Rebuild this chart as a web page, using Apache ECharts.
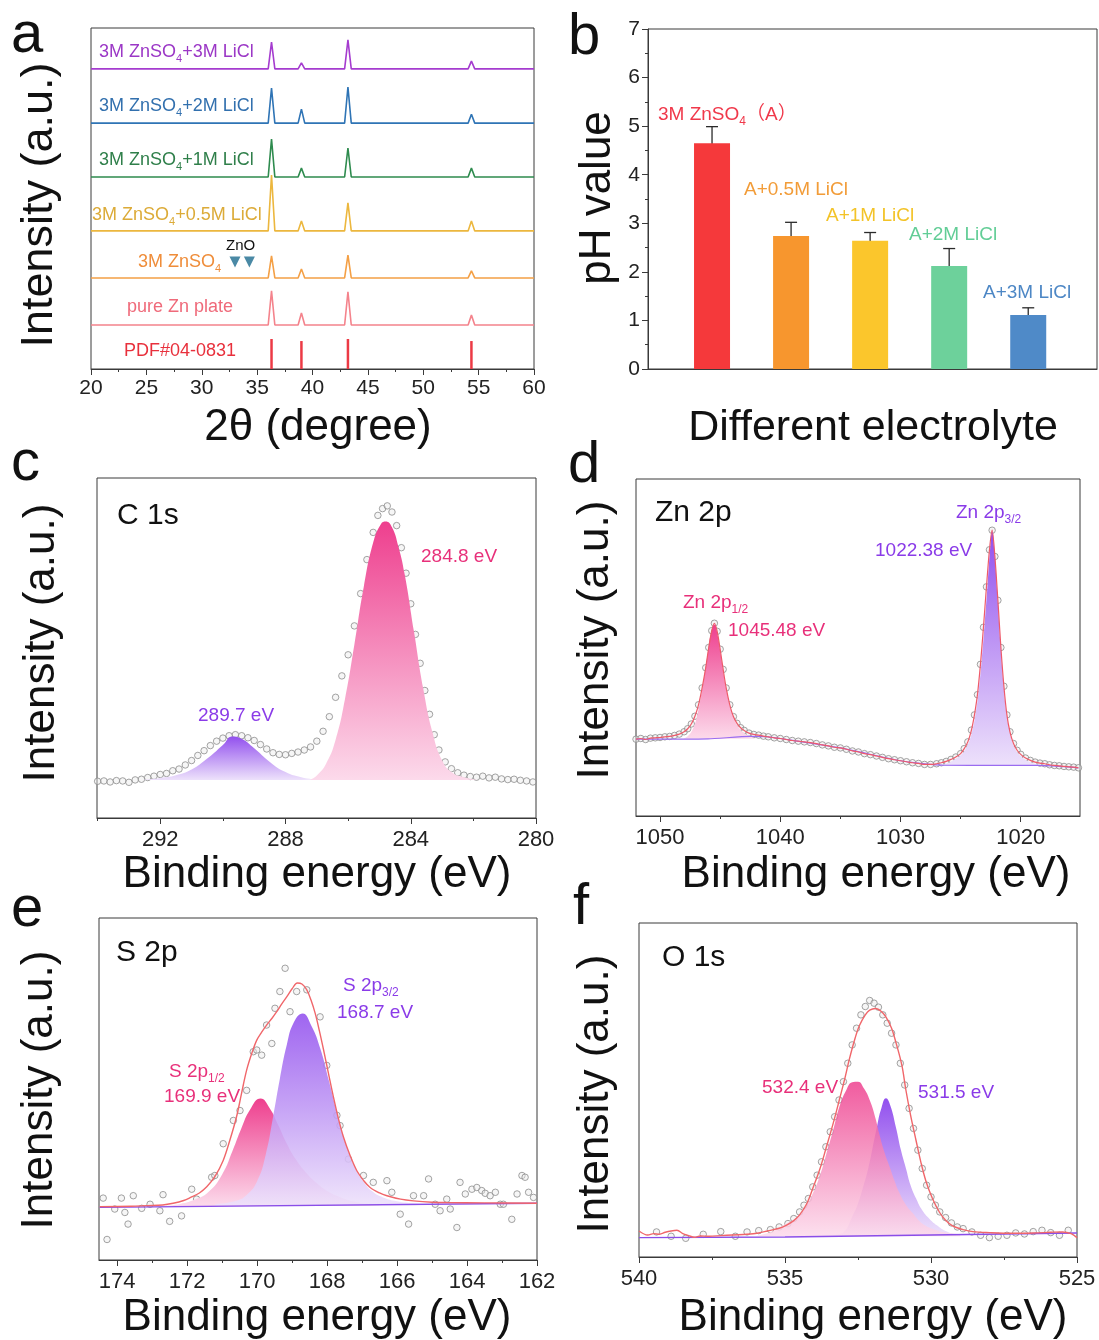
<!DOCTYPE html>
<html>
<head>
<meta charset="utf-8">
<script src="https://cdn.jsdelivr.net/npm/echarts@6/dist/echarts.min.js"></script>
<style>
html, body { margin: 0; padding: 0; background: #fff; }
#chart { width: 1099px; height: 1340px; }
</style>
</head>
<body>
<div id="chart"></div>
<script>
// 字体 / 颜色
const FONT = '"Liberation Sans", Arial, "Noto Sans CJK SC", sans-serif'
const AXIS = '#3a3a3a'
const PINK_TXT = '#e8307a'
const PURPLE_TXT = '#8a3be8'

// ---- a: XRD ----
const xrdTicks = [20, 25, 30, 35, 40, 45, 50, 55, 60]
const xrdPeaks = [36.3, 39.0, 43.2, 54.35]
const xrdOffsets = [88.0, 72.1, 56.3, 40.5, 26.7, 12.9]
const xrdHeights = [
  [7.9, 1.8, 8.5, 2.3],
  [10.3, 4.1, 10.6, 2.6],
  [11.1, 2.6, 8.5, 2.6],
  [16.4, 2.9, 8.2, 2.9],
  [6.5, 2.6, 6.7, 2.1],
  [10.0, 3.5, 9.7, 2.9]
]
const pdfHeights = [8.8, 8.2, 8.8, 8.2]
const znoMarks = [33.0, 34.3]
const znoLevel = 31.4

// ---- b: pH ----
const phCategories = ['3M ZnSO4（A）', 'A+0.5M LiCl', 'A+1M LiCl', 'A+2M LiCl', 'A+3M LiCl']
const phValues = [4.65, 2.74, 2.64, 2.12, 1.11]
const phErrLow = [4.30, 2.48, 2.47, 1.76, 1.01]
const phErrHigh = [4.99, 3.02, 2.81, 2.48, 1.26]

// ---- c: C 1s ----
const c1sMajor = [280, 284, 288, 292]
const c1sMinor = [282, 286, 290, 294]
const c1sData = [
  [294.0, 10.8], [293.8, 10.9], [293.6, 10.6], [293.4, 11.0], [293.2, 10.9], [293.0, 10.5], [292.8, 11.2],
  [292.6, 11.4], [292.4, 11.9], [292.2, 12.3], [292.0, 12.8], [291.8, 13.1], [291.6, 13.9], [291.4, 14.4],
  [291.2, 15.6], [291.0, 16.9], [290.8, 18.4], [290.6, 19.8], [290.4, 21.3], [290.2, 22.6], [290.0, 23.5],
  [289.8, 24.2], [289.6, 24.5], [289.4, 24.2], [289.2, 23.6], [289.0, 22.8], [288.8, 21.6], [288.6, 20.3],
  [288.4, 19.2], [288.2, 18.7], [288.0, 18.6], [287.8, 19.0], [287.6, 19.4], [287.4, 20.0], [287.2, 20.9],
  [287.0, 22.6], [286.8, 25.5], [286.6, 29.8], [286.4, 35.5], [286.2, 41.8], [286.0, 48.0], [285.8, 56.5],
  [285.6, 66.0], [285.4, 76.0], [285.2, 84.0], [285.05, 89.0], [284.9, 91.0], [284.75, 91.8], [284.6, 90.0],
  [284.45, 86.0], [284.3, 79.5], [284.15, 72.0], [284.0, 63.0], [283.85, 54.0], [283.7, 45.5], [283.55, 37.5],
  [283.4, 30.5], [283.25, 24.5], [283.1, 20.0], [282.9, 16.5], [282.7, 14.5], [282.5, 13.3], [282.3, 12.6],
  [282.1, 12.2], [281.9, 12.0], [281.7, 12.3], [281.5, 11.8], [281.3, 12.0], [281.1, 11.5], [280.9, 11.3],
  [280.7, 11.4], [280.5, 11.1], [280.3, 10.9], [280.1, 10.6]
]
const c1sPeak284 = [
  [287.2, 11.3], [287.0, 12.5], [286.7, 16], [286.4, 23], [286.1, 35], [285.8, 51], [285.5, 68], [285.2, 81],
  [284.95, 86.5], [284.8, 87.2], [284.6, 85.5], [284.4, 80], [284.2, 72], [283.9, 55], [283.6, 38], [283.3, 25],
  [283.0, 17], [282.7, 13.5], [282.3, 12], [281.8, 11.3]
]
const c1sPeak289 = [
  [292.5, 11.3], [292.0, 11.8], [291.5, 12.6], [291.0, 14.3], [290.5, 17.5], [290.0, 21.5], [289.7, 24.0],
  [289.4, 23.3], [289.0, 20.5], [288.5, 16.5], [288.0, 13.5], [287.5, 12.0], [287.0, 11.3]
]
const c1sBase = 11.2

// ---- d: Zn 2p ----
const zn2pMajor = [1020, 1030, 1040, 1050]
const zn2pMinor = [1025, 1035, 1045]
const zn2pData = [
  [1052.0, 22.8], [1051.6, 23.0], [1051.2, 22.7], [1050.8, 23.1], [1050.4, 23.2], [1050.0, 23.3], [1049.6, 23.5],
  [1049.2, 23.6], [1048.8, 23.9], [1048.4, 24.3], [1048.0, 25.0], [1047.7, 25.9], [1047.4, 27.3], [1047.1, 29.6],
  [1046.8, 33.0], [1046.5, 38.0], [1046.2, 44.0], [1045.95, 50.0], [1045.7, 55.0], [1045.48, 57.2], [1045.25, 54.8],
  [1045.0, 49.5], [1044.75, 43.5], [1044.5, 38.0], [1044.2, 33.0], [1043.9, 29.5], [1043.6, 27.5], [1043.3, 26.2],
  [1043.0, 25.4], [1042.6, 24.6], [1042.2, 24.2], [1041.8, 24.0], [1041.4, 23.7], [1041.0, 23.5], [1040.5, 23.2],
  [1040.0, 23.0], [1039.5, 22.7], [1039.0, 22.4], [1038.5, 22.2], [1038.0, 22.0], [1037.5, 21.8], [1037.0, 21.5],
  [1036.5, 21.1], [1036.0, 20.8], [1035.5, 20.4], [1035.0, 20.2], [1034.5, 19.8], [1034.0, 19.3], [1033.5, 19.0],
  [1033.0, 18.5], [1032.5, 18.2], [1032.0, 17.8], [1031.5, 17.4], [1031.0, 17.0], [1030.5, 16.7], [1030.0, 16.4],
  [1029.5, 16.1], [1029.0, 15.8], [1028.5, 15.6], [1028.0, 15.3], [1027.5, 15.3], [1027.0, 15.5], [1026.6, 15.8],
  [1026.2, 16.2], [1025.8, 16.8], [1025.4, 17.5], [1025.0, 18.5], [1024.7, 20.0], [1024.4, 22.0], [1024.1, 25.5],
  [1023.85, 30.0], [1023.6, 36.0], [1023.35, 45.0], [1023.1, 56.0], [1022.85, 68.0], [1022.6, 79.0], [1022.38, 84.8],
  [1022.15, 77.0], [1021.9, 64.0], [1021.65, 50.0], [1021.4, 38.5], [1021.15, 30.0], [1020.9, 25.0], [1020.6, 21.5],
  [1020.3, 19.5], [1020.0, 18.3], [1019.6, 17.2], [1019.2, 16.5], [1018.8, 16.0], [1018.4, 15.7], [1018.0, 15.5],
  [1017.6, 15.2], [1017.2, 15.0], [1016.8, 14.9], [1016.4, 14.7], [1016.0, 14.6], [1015.6, 14.5], [1015.2, 14.3]
]
const zn2pPeak1045 = [
  [1048.0, 23.0], [1047.6, 24.0], [1047.2, 26.5], [1046.9, 30.0], [1046.6, 35.5], [1046.3, 42.0], [1046.0, 49.0],
  [1045.75, 54.5], [1045.48, 56.8], [1045.2, 53.5], [1044.95, 48.0], [1044.7, 42.0], [1044.4, 36.0], [1044.1, 31.5],
  [1043.8, 28.5], [1043.4, 26.0], [1043.0, 24.6], [1042.5, 23.6], [1042.0, 23.0]
]
const zn2pPeak1022 = [
  [1026.5, 15.2], [1026.0, 15.8], [1025.5, 16.8], [1025.0, 18.0], [1024.6, 19.8], [1024.3, 22.0], [1024.0, 25.8],
  [1023.75, 30.5], [1023.5, 37.0], [1023.25, 46.0], [1023.0, 57.0], [1022.75, 69.0], [1022.55, 79.0], [1022.38, 84.5],
  [1022.2, 79.0], [1021.95, 66.0], [1021.7, 52.0], [1021.45, 40.0], [1021.2, 31.0], [1020.95, 25.5], [1020.7, 22.0],
  [1020.4, 19.5], [1020.0, 17.8], [1019.5, 16.5], [1019.0, 15.7], [1018.5, 15.2], [1018.0, 15.0]
]
const zn2pBackground = [
  [1052.0, 22.8], [1046.0, 22.9], [1042.5, 23.6], [1041.0, 23.5], [1040.0, 23.0], [1035.0, 20.2], [1030.0, 16.4],
  [1027.5, 15.3], [1026.5, 15.1], [1022.0, 15.0], [1018.5, 15.0], [1015.2, 14.3]
]

// ---- e: S 2p ----
const s2pMajor = [162, 164, 166, 168, 170, 172, 174]
const s2pMinor = [163, 165, 167, 169, 171, 173]
const s2pData = [
  [174.40, 18.1], [174.29, 6.0], [174.07, 14.9], [173.88, 18.1], [173.78, 13.9], [173.69, 10.5], [173.54, 18.8],
  [173.30, 15.1], [173.06, 16.3], [172.78, 14.4], [172.69, 19.1], [172.50, 11.3], [172.16, 12.9], [171.87, 20.7],
  [171.73, 17.8], [171.30, 24.2], [171.21, 24.7], [170.97, 34.0], [170.68, 40.8], [170.49, 43.7], [170.30, 49.6],
  [170.11, 60.9], [170.01, 61.4], [169.87, 59.9], [169.73, 68.7], [169.58, 63.3], [169.49, 73.6], [169.35, 78.5],
  [169.20, 85.3], [169.06, 72.6], [168.87, 78.5], [168.58, 79.0], [168.20, 71.1], [168.01, 56.9], [167.72, 42.3],
  [167.63, 39.3], [167.39, 29.5], [166.96, 24.7], [166.68, 22.7], [166.29, 23.2], [166.15, 19.8], [165.91, 13.4],
  [165.67, 10.5], [165.53, 18.8], [165.24, 18.8], [165.10, 23.7], [164.91, 16.3], [164.77, 14.4], [164.58, 17.8],
  [164.48, 14.9], [164.29, 9.5], [164.20, 22.7], [164.05, 19.3], [163.86, 20.7], [163.72, 21.2], [163.58, 20.3],
  [163.48, 19.5], [163.34, 18.8], [163.19, 19.8], [163.05, 16.3], [162.96, 16.3], [162.72, 11.9], [162.57, 19.3],
  [162.43, 24.7], [162.34, 24.2], [162.24, 19.8], [162.10, 18.3]
]
const s2pEnvelope = [
  [174.5, 15.6], [173.6, 15.7], [173.16, 15.9], [172.7, 16.1], [172.4, 16.6], [172.1, 17.4], [171.9, 18.3],
  [171.65, 19.6], [171.44, 21.4], [171.2, 24.5], [170.97, 29.1], [170.78, 35.0], [170.59, 41.8], [170.45, 48.5],
  [170.3, 55.5], [170.15, 60.5], [170.01, 64.3], [169.87, 66.6], [169.73, 68.7], [169.58, 70.6], [169.44, 72.6],
  [169.3, 74.8], [169.15, 77.0], [169.0, 79.3], [168.85, 81.0], [168.72, 80.7], [168.58, 79.0], [168.46, 76.0],
  [168.34, 72.1], [168.22, 67.0], [168.1, 61.4], [167.96, 54.5], [167.82, 47.7], [167.68, 41.5], [167.53, 35.9],
  [167.34, 30.5], [167.15, 26.1], [166.96, 23.3], [166.77, 21.2], [166.5, 19.6], [166.29, 18.8], [165.9, 17.8],
  [165.53, 17.3], [165.0, 16.9], [164.58, 16.8], [163.5, 16.7], [162.0, 16.6]
]
const s2pPeak169 = [
  [172.6, 15.9], [172.2, 16.4], [171.8, 17.6], [171.4, 19.8], [171.0, 25.0], [170.7, 32.0], [170.45, 38.5],
  [170.2, 44.0], [169.9, 47.2], [169.65, 44.5], [169.4, 39.5], [169.15, 34.0], [168.9, 29.5], [168.6, 25.5],
  [168.3, 22.5], [168.0, 20.2], [167.6, 18.3], [167.2, 17.0], [166.8, 16.3], [166.4, 16.0]
]
const s2pPeak168 = [
  [171.2, 16.3], [170.6, 17.3], [170.3, 19.0], [170.0, 23.0], [169.75, 31.0], [169.55, 41.5], [169.35, 53.0],
  [169.15, 63.0], [168.95, 69.5], [168.7, 72.1], [168.45, 68.5], [168.2, 62.0], [167.95, 52.5], [167.7, 42.5],
  [167.45, 33.5], [167.2, 27.0], [166.95, 22.8], [166.7, 20.0], [166.4, 18.3], [166.0, 17.2], [165.5, 16.6],
  [165.0, 16.3]
]
const s2pBackground = [[174.5, 15.4], [162.0, 16.6]]

// ---- f: O 1s ----
const o1sMajor = [525, 530, 535, 540]
const o1sMinor = [527.5, 532.5, 537.5]
const o1sData = [
  [539.4, 7.5], [538.9, 6.2], [538.4, 5.6], [537.8, 6.8], [537.2, 7.6], [536.7, 6.2], [536.3, 7.5], [535.9, 7.9],
  [535.5, 8.2], [535.2, 9.0], [534.9, 10.0], [534.7, 11.5], [534.5, 13.5], [534.35, 15.5], [534.2, 17.5],
  [534.05, 21.0], [533.9, 24.5], [533.75, 28.5], [533.6, 33.0], [533.45, 37.5], [533.3, 42.0], [533.15, 47.0],
  [533.0, 52.5], [532.85, 58.0], [532.7, 63.5], [532.55, 68.5], [532.4, 72.5], [532.25, 75.0], [532.1, 76.8],
  [531.95, 76.0], [531.8, 74.8], [531.65, 72.5], [531.5, 70.0], [531.35, 67.0], [531.2, 63.5], [531.05, 58.0],
  [530.9, 51.5], [530.75, 44.5], [530.6, 38.5], [530.45, 32.0], [530.3, 26.5], [530.15, 21.5], [530.0, 18.0],
  [529.85, 15.5], [529.7, 13.5], [529.5, 11.8], [529.3, 10.2], [529.1, 9.0], [528.9, 8.5], [528.6, 7.5],
  [528.3, 6.5], [528.0, 5.8], [527.7, 6.2], [527.4, 6.5], [527.1, 7.2], [526.8, 6.9], [526.5, 7.6], [526.2, 8.0],
  [525.9, 7.3], [525.6, 6.5], [525.3, 8.0]
]
const o1sEnvelope = [
  [540.0, 7.8], [539.7, 6.6], [539.5, 7.0], [539.3, 6.8], [539.1, 7.4], [538.9, 7.8], [538.7, 8.0], [538.5, 7.0],
  [538.3, 6.4], [538.1, 5.9], [537.9, 6.3], [537.6, 6.2], [537.2, 6.4], [536.8, 6.6], [536.3, 6.8], [535.9, 7.2],
  [535.6, 7.8], [535.2, 8.6], [534.96, 9.5], [534.7, 10.9], [534.5, 12.6], [534.25, 16.0], [534.05, 20.5],
  [533.8, 26.5], [533.59, 32.7], [533.35, 40.0], [533.14, 47.0], [532.95, 53.5], [532.8, 59.1], [532.6, 65.5],
  [532.45, 69.3], [532.25, 72.5], [532.1, 73.9], [531.9, 74.4], [531.7, 73.5], [531.54, 71.8], [531.35, 68.5],
  [531.2, 64.2], [531.0, 57.5], [530.86, 50.0], [530.7, 42.5], [530.51, 34.8], [530.35, 28.5], [530.17, 22.6],
  [529.95, 17.5], [529.71, 13.4], [529.5, 11.0], [529.26, 9.3], [528.9, 8.2], [528.57, 7.6], [528.0, 7.3],
  [527.2, 7.1], [526.5, 7.2], [525.9, 7.4], [525.5, 7.5], [525.2, 7.0], [525.0, 5.8]
]
const o1sPeak532 = [
  [536.0, 6.3], [535.4, 7.8], [534.95, 10.0], [534.6, 11.9], [534.3, 15.0], [534.05, 19.0], [533.8, 24.5],
  [533.59, 30.7], [533.35, 38.0], [533.14, 44.9], [532.9, 50.0], [532.7, 52.3], [532.5, 52.5], [532.3, 50.5],
  [532.1, 47.0], [531.9, 41.5], [531.77, 36.8], [531.6, 31.5], [531.4, 26.6], [531.25, 22.8], [531.1, 19.5],
  [530.85, 15.5], [530.6, 12.9], [530.4, 10.8], [530.17, 9.3], [529.8, 8.0], [529.5, 7.3], [529.0, 6.8]
]
const o1sPeak531 = [
  [533.3, 6.6], [533.0, 7.4], [532.68, 12.4], [532.5, 16.0], [532.34, 20.5], [532.15, 26.5], [532.0, 32.7],
  [531.85, 39.0], [531.7, 44.5], [531.54, 47.5], [531.4, 45.5], [531.2, 38.8], [531.03, 32.0], [530.86, 26.6],
  [530.7, 21.5], [530.51, 17.5], [530.3, 14.0], [530.05, 11.4], [529.8, 9.5], [529.5, 7.8], [529.1, 6.8], [528.6, 6.6]
]
const o1sBackground = [[540.0, 5.8], [535.0, 6.0], [530.0, 6.6], [525.0, 7.2]]

// 样式
const xrdColors = ['#a53ccf', '#2f74b5', '#2e8b4e', '#ecb73e', '#f4a046', '#f4838c']
const phColors = ['#f5393b', '#f7962e', '#fbc62c', '#6dd19b', '#4f8ac8']
const phTextColors = ['#f0384a', '#f29c38', '#f3c328', '#62cd96', '#4d87c5']

function grad(top, bottom) {
  return new echarts.graphic.LinearGradient(0, 0, 0, 1, [
    { offset: 0, color: top },
    { offset: 1, color: bottom }
  ])
}
const pinkFill = () => grad('#ee3f8e', '#fcdaeb')
const purpleFill = () => grad('#9250ee', '#ede1fb')

function xrdTrace(base, heights) {
  let pts = [[20, base]]
  xrdPeaks.forEach(function (p, i) {
    pts.push([p - 0.3, base], [p, base + heights[i]], [p + 0.3, base])
  })
  pts.push([60, base])
  return pts
}

function comp(ax, yi, data, base, fill, opacity) {
  return {
    type: 'line', xAxisIndex: ax, yAxisIndex: yi, data: data,
    smooth: 0.5, symbol: 'none', silent: true,
    lineStyle: { width: 0.6, color: 'rgba(255,255,255,0)' },
    areaStyle: { origin: base, color: fill, opacity: opacity || 1 }
  }
}
function circles(ax, yi, data) {
  return {
    type: 'scatter', xAxisIndex: ax, yAxisIndex: yi, data: data, symbol: 'circle', symbolSize: 6.5,
    itemStyle: { color: 'rgba(235,235,235,0.55)', borderColor: '#8c8c8c', borderWidth: 1 }
  }
}
function curve(ax, yi, data, color, width, smooth) {
  return {
    type: 'line', xAxisIndex: ax, yAxisIndex: yi, data: data, symbol: 'none', smooth: smooth,
    lineStyle: { color: color, width: width }
  }
}

function xpsAxis(grid, min, max, major) {
  return {
    type: 'value', gridIndex: grid, min: min, max: max, inverse: true, position: 'bottom',
    axisLine: { lineStyle: { color: AXIS, width: 1 } },
    axisTick: { customValues: major, length: 6, lineStyle: { color: AXIS } },
    axisLabel: {
      customValues: major, fontSize: 22, color: '#222', fontFamily: FONT, margin: 11,
      formatter: function (v) { return String(v) }
    },
    splitLine: { show: false }
  }
}
function minorAxis(grid, min, max, minor) {
  return {
    type: 'value', gridIndex: grid, min: min, max: max, inverse: true, position: 'bottom',
    axisLine: { show: false }, axisLabel: { show: false }, splitLine: { show: false },
    axisTick: { customValues: minor, length: 3, lineStyle: { color: AXIS } }
  }
}
function hiddenY(grid) {
  return {
    type: 'value', gridIndex: grid, min: 0, max: 100,
    axisLine: { show: false }, axisTick: { show: false }, axisLabel: { show: false }, splitLine: { show: false }
  }
}

// 文字
function txt(x, y, text, size, color) {
  return {
    type: 'text', x: x, y: y, silent: true,
    style: { text: text, font: size + 'px ' + FONT, fill: color, align: 'left', verticalAlign: 'middle' }
  }
}
function subTxt(x, y, parts, size, color) {
  // parts: [main, sub, rest]
  let s = '{m|' + parts[0] + '}{s|' + parts[1] + '}' + (parts[2] ? '{m|' + parts[2] + '}' : '')
  return {
    type: 'text', x: x, y: y, silent: true,
    style: {
      text: s, fill: color, align: 'left', verticalAlign: 'middle', font: size + 'px ' + FONT,
      rich: {
        m: { fontSize: size, fontFamily: FONT, fill: color, lineHeight: size + 6 },
        s: { fontSize: Math.round(size * 0.62), fontFamily: FONT, fill: color, lineHeight: Math.round(size * 0.62), verticalAlign: 'bottom' }
      }
    }
  }
}
function yTitle(x, y, text, size) {
  return {
    type: 'text', x: x, y: y, rotation: Math.PI / 2, silent: true,
    style: { text: text, font: size + 'px ' + FONT, fill: '#111', align: 'center', verticalAlign: 'middle' }
  }
}
function xTitle(x, y, text, size) {
  return {
    type: 'text', x: x, y: y, silent: true,
    style: { text: text, font: size + 'px ' + FONT, fill: '#111', align: 'center', verticalAlign: 'middle' }
  }
}

const gridBox = { show: true, borderColor: AXIS, borderWidth: 1, backgroundColor: 'transparent' }

let series = []

// a
xrdOffsets.forEach(function (base, i) {
  series.push({
    type: 'line', xAxisIndex: 0, yAxisIndex: 0, data: xrdTrace(base, xrdHeights[i]),
    symbol: 'none', lineStyle: { color: xrdColors[i], width: 1.6 }
  })
})
series.push({
  type: 'bar', xAxisIndex: 0, yAxisIndex: 0, barWidth: 2.5,
  data: xrdPeaks.map(function (p, i) { return [p, pdfHeights[i]] }),
  itemStyle: { color: '#ec3a45' }
})
series.push({
  type: 'scatter', xAxisIndex: 0, yAxisIndex: 0, symbol: 'triangle', symbolRotate: 180, symbolSize: 11,
  data: znoMarks.map(function (p) { return [p, znoLevel] }), itemStyle: { color: '#1d6c8e' }
})

// b
series.push({
  type: 'bar', xAxisIndex: 1, yAxisIndex: 1, barWidth: 36,
  data: phValues.map(function (v, i) { return { value: [i + 1, v], itemStyle: { color: phColors[i] } } })
})
series.push({
  type: 'custom', xAxisIndex: 1, yAxisIndex: 1,
  data: phCategories.map(function (c, i) { return [i + 1, phErrLow[i], phErrHigh[i]] }),
  encode: { x: 0, y: [1, 2] },
  renderItem: function (params, api) {
    let lo = api.coord([api.value(0), api.value(1)])
    let hi = api.coord([api.value(0), api.value(2)])
    let w = 6
    let st = { stroke: '#2a2a2a', lineWidth: 1.3 }
    return {
      type: 'group', children: [
        { type: 'line', shape: { x1: lo[0], y1: lo[1], x2: hi[0], y2: hi[1] }, style: st },
        { type: 'line', shape: { x1: lo[0] - w, y1: lo[1], x2: lo[0] + w, y2: lo[1] }, style: st },
        { type: 'line', shape: { x1: hi[0] - w, y1: hi[1], x2: hi[0] + w, y2: hi[1] }, style: st }
      ]
    }
  }
})

// c (xAxis 2, yAxis 2)
series.push(
  comp(2, 2, c1sPeak289, c1sBase, purpleFill()),
  comp(2, 2, c1sPeak284, c1sBase, pinkFill()),
  circles(2, 2, c1sData))

// d (xAxis 4, yAxis 3)
series.push(
  comp(4, 3, zn2pPeak1045, 22.9, pinkFill()),
  comp(4, 3, zn2pPeak1022, 15.0, purpleFill()),
  curve(4, 3, zn2pBackground, '#9a6cf0', 1.2, 0.2),
  circles(4, 3, zn2pData),
  curve(4, 3, zn2pData, '#ee5a6a', 1.2, 0.3))

// e (xAxis 6, yAxis 4)
series.push(
  comp(6, 4, s2pPeak169, 15.8, pinkFill()),
  comp(6, 4, s2pPeak168, 16.0, purpleFill(), 0.88),
  curve(6, 4, s2pBackground, '#8a4ee8', 1.4, false),
  circles(6, 4, s2pData),
  curve(6, 4, s2pEnvelope, '#f0666a', 1.4, 0.35))

// f (xAxis 8, yAxis 5)
series.push(
  comp(8, 5, o1sPeak531, 6.4, purpleFill()),
  comp(8, 5, o1sPeak532, 6.2, pinkFill(), 0.85),
  curve(8, 5, o1sBackground, '#8a4ee8', 1.4, false),
  circles(8, 5, o1sData),
  curve(8, 5, o1sEnvelope, '#f0666a', 1.4, 0.35))

const graphics = [
  // panel letters
  txt(11, 36, 'a', 58, '#111'),
  txt(568, 38, 'b', 58, '#111'),
  txt(11, 464, 'c', 58, '#111'),
  txt(568, 466, 'd', 58, '#111'),
  txt(11, 910, 'e', 58, '#111'),
  txt(573, 908, 'f', 58, '#111'),
  // axis titles
  yTitle(40, 205, 'Intensity (a.u.)', 45),
  xTitle(318, 428, '2θ (degree)', 44),
  yTitle(598, 198, 'pH value', 44),
  xTitle(873, 428, 'Different electrolyte', 43),
  yTitle(42, 643, 'Intensity (a.u.)', 44),
  xTitle(317, 875, 'Binding energy (eV)', 44),
  yTitle(596, 640, 'Intensity (a.u.)', 44),
  xTitle(876, 875, 'Binding energy (eV)', 44),
  yTitle(40, 1090, 'Intensity (a.u.)', 44),
  xTitle(317, 1318, 'Binding energy (eV)', 44),
  yTitle(596, 1094, 'Intensity (a.u.)', 44),
  xTitle(873, 1318, 'Binding energy (eV)', 44),
  // a labels
  subTxt(99, 52, ['3M ZnSO', '4', '+3M LiCl'], 18, '#9b37c6'),
  subTxt(99, 106, ['3M ZnSO', '4', '+2M LiCl'], 18, '#3270ae'),
  subTxt(99, 160, ['3M ZnSO', '4', '+1M LiCl'], 18, '#2f7f4a'),
  subTxt(92, 215, ['3M ZnSO', '4', '+0.5M LiCl'], 18, '#dcab38'),
  subTxt(138, 262, ['3M ZnSO', '4', ''], 18, '#ef8d3a'),
  txt(226, 246, 'ZnO', 15, '#111'),
  txt(127, 307, 'pure Zn plate', 18, '#ef6a7a'),
  txt(124, 351, 'PDF#04-0831', 18, '#e8303c'),
  // b labels
  subTxt(658, 115, ['3M ZnSO', '4', '（A）'], 19, phTextColors[0]),
  txt(744, 190, phCategories[1], 19, phTextColors[1]),
  txt(826, 216, phCategories[2], 19, phTextColors[2]),
  txt(909, 235, phCategories[3], 19, phTextColors[3]),
  txt(983, 293, phCategories[4], 19, phTextColors[4]),
  // c
  txt(117, 516, 'C 1s', 30, '#111'),
  txt(421, 557, '284.8 eV', 19, PINK_TXT),
  txt(198, 716, '289.7 eV', 19, PURPLE_TXT),
  // d
  txt(655, 513, 'Zn 2p', 30, '#111'),
  subTxt(956, 513, ['Zn 2p', '3/2', ''], 19, PURPLE_TXT),
  txt(875, 551, '1022.38 eV', 19, PURPLE_TXT),
  subTxt(683, 603, ['Zn 2p', '1/2', ''], 19, PINK_TXT),
  txt(728, 631, '1045.48 eV', 19, PINK_TXT),
  // e
  txt(116, 953, 'S 2p', 30, '#111'),
  subTxt(343, 986, ['S 2p', '3/2', ''], 19, PURPLE_TXT),
  txt(337, 1013, '168.7 eV', 19, PURPLE_TXT),
  subTxt(169, 1072, ['S 2p', '1/2', ''], 19, PINK_TXT),
  txt(164, 1097, '169.9 eV', 19, PINK_TXT),
  // f
  txt(662, 958, 'O 1s', 30, '#111'),
  txt(762, 1088, '532.4 eV', 19, PINK_TXT),
  txt(918, 1093, '531.5 eV', 19, PURPLE_TXT)
]

const option = {
  animation: false,
  backgroundColor: '#fff',
  grid: [
    Object.assign({ left: 91, top: 28, width: 443, height: 341 }, gridBox),
    Object.assign({ left: 648, top: 29, width: 449, height: 340 }, gridBox),
    Object.assign({ left: 97, top: 478, width: 439, height: 340 }, gridBox),
    Object.assign({ left: 636, top: 479, width: 444, height: 337 }, gridBox),
    Object.assign({ left: 99, top: 918, width: 438, height: 342 }, gridBox),
    Object.assign({ left: 639, top: 923, width: 438, height: 334 }, gridBox)
  ],
  xAxis: [
    {
      type: 'value', gridIndex: 0, min: xrdTicks[0], max: xrdTicks[xrdTicks.length - 1], interval: 5,
      axisLine: { lineStyle: { color: AXIS } },
      axisTick: { length: 6, lineStyle: { color: AXIS } },
      minorTick: { show: true, splitNumber: 2, length: 3, lineStyle: { color: AXIS } },
      axisLabel: { fontSize: 21, color: '#222', fontFamily: FONT, margin: 9 },
      splitLine: { show: false }
    },
    {
      type: 'value', gridIndex: 1, min: 0.19, max: 5.87,
      axisLine: { lineStyle: { color: AXIS } }, axisTick: { show: false }, axisLabel: { show: false },
      splitLine: { show: false }
    },
    xpsAxis(2, 280, 294.02, c1sMajor),
    minorAxis(2, 280, 294.02, c1sMinor),
    xpsAxis(3, 1015.07, 1052, zn2pMajor),
    minorAxis(3, 1015.07, 1052, zn2pMinor),
    xpsAxis(4, 162, 174.52, s2pMajor),
    minorAxis(4, 162, 174.52, s2pMinor),
    xpsAxis(5, 525, 540, o1sMajor),
    minorAxis(5, 525, 540, o1sMinor)
  ],
  yAxis: [
    hiddenY(0),
    {
      type: 'value', gridIndex: 1, min: 0, max: 7, interval: 1,
      axisLine: { show: true, lineStyle: { color: AXIS } },
      axisTick: { show: true, length: 6, lineStyle: { color: AXIS } },
      minorTick: { show: true, splitNumber: 2, length: 3, lineStyle: { color: AXIS } },
      axisLabel: { fontSize: 21, color: '#222', fontFamily: FONT, margin: 8 },
      splitLine: { show: false }
    },
    hiddenY(2), hiddenY(3), hiddenY(4), hiddenY(5)
  ],
  series: series,
  graphic: graphics
}

const chart = echarts.init(document.getElementById('chart'))
chart.setOption(option)
</script>
</body>
</html>
